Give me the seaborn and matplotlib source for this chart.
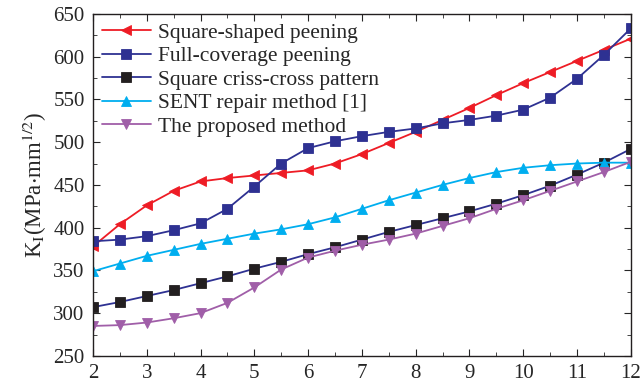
import matplotlib
matplotlib.use("Agg")
import matplotlib.pyplot as plt
import seaborn as sns
import pandas as pd
from matplotlib.ticker import MultipleLocator

x = [2, 2.5, 3, 3.5, 4, 4.5, 5, 5.5, 6, 6.5, 7, 7.5, 8, 8.5, 9, 9.5, 10, 10.5, 11, 11.5, 12]
square_shaped = [378, 404, 426, 443, 454, 458, 461, 464, 467, 475, 486, 499, 512, 526, 540, 555, 569, 582, 595, 608, 621]
full_coverage = [384, 386, 390, 397, 405, 422, 448, 475, 493, 501, 507, 512, 516, 522, 526, 531, 538, 552, 574, 602, 633]
criss_cross = [307, 313, 320, 327, 335, 343, 352, 360, 369, 377, 386, 395, 403, 411, 419, 428, 438, 449, 462, 476, 492]
sent_repair = [349, 358, 367, 374, 381, 387, 393, 398, 404, 412, 422, 432, 441, 450, 458, 465, 470, 473, 475, 476, 476]
proposed = [285, 286, 289, 294, 300, 312, 330, 351, 365, 373, 380, 386, 393, 402, 411, 422, 432, 443, 454, 465, 477]

labels = ["Square-shaped peening", "Full-coverage peening", "Square criss-cross pattern",
          "SENT repair method [1]", "The proposed method"]

sns.set_style("ticks")
plt.rcParams['font.family'] = ['Liberation Serif', 'DejaVu Serif']
plt.rcParams['mathtext.fontset'] = 'stix'

fig = plt.figure(figsize=(6.41, 3.86), dpi=100)
ax = fig.add_axes([0.145, 0.078, 0.839, 0.886])

series = [
    (square_shaped, '#ee1c25', '#ee1c25', '<'),
    (full_coverage, '#2e3192', '#2e3192', 's'),
    (criss_cross, '#2e3192', '#231f20', 's'),
    (sent_repair, '#00aeef', '#00aeef', '^'),
    (proposed, '#a05ea8', '#a05ea8', 'v'),
]
for (vals, lc, mc, m), lab in zip(series, labels):
    df = pd.DataFrame({'x': x, 'y': vals})
    sns.lineplot(data=df, x='x', y='y', ax=ax, color=lc, marker=m, markersize=6.5,
                 markerfacecolor=mc, markeredgecolor=mc, markeredgewidth=0.6,
                 linewidth=1.3, label=lab)

ax.set_xlim(2, 12)
ax.set_ylim(250, 650)
ax.xaxis.set_major_locator(MultipleLocator(1))
ax.xaxis.set_minor_locator(MultipleLocator(0.5))
ax.yaxis.set_major_locator(MultipleLocator(50))
ax.yaxis.set_minor_locator(MultipleLocator(25))
ax.tick_params(which='both', direction='in', top=True, right=True, labelsize=15)
ax.tick_params(which='major', length=5, pad=6)
ax.tick_params(which='minor', length=3)
for s in ax.spines.values():
    s.set_linewidth(1.0)
    s.set_color('#231f20')

ax.set_xlabel('')
ax.set_ylabel(r'K$_\mathrm{I}$(MPa$\cdot$mm$^{1/2}$)', fontsize=16.5, labelpad=3)

ax.legend(loc='upper left', frameon=False, fontsize=15.5, handlelength=2.3,
          labelspacing=0.16, borderaxespad=0.2, handletextpad=0.3,
          borderpad=0.2)

fig.savefig('out.png', dpi=100)
